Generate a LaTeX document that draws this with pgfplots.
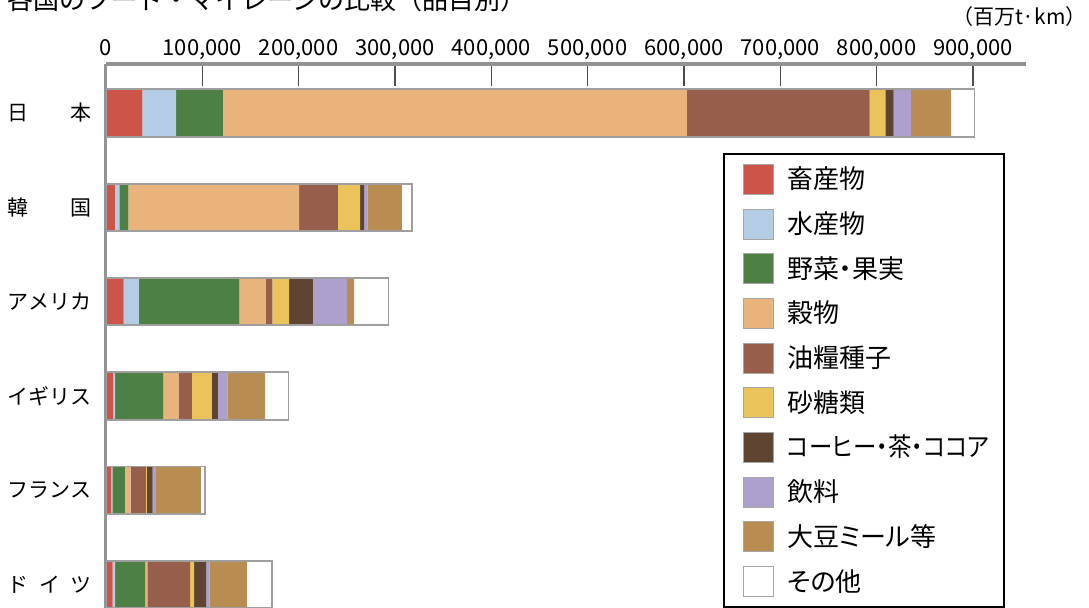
\documentclass[border=0pt]{standalone}
\usepackage{fontspec}
\setmainfont{Noto Sans CJK JP}
\newfontfamily\legfont[RawFeature=+palt]{Noto Sans CJK JP}
\usepackage{graphicx}
\usepackage{pgfplots}
\pgfplotsset{compat=1.18}
\usepackage{pgfplotstable}

\definecolor{cChiku}{RGB}{205,84,72}
\definecolor{cSui}{RGB}{180,204,228}
\definecolor{cYasai}{RGB}{78,127,69}
\definecolor{cKoku}{RGB}{232,180,124}
\definecolor{cYu}{RGB}{151,95,75}
\definecolor{cSato}{RGB}{234,196,90}
\definecolor{cCof}{RGB}{94,68,49}
\definecolor{cInr}{RGB}{173,160,204}
\definecolor{cDaizu}{RGB}{185,141,82}
\definecolor{cOther}{RGB}{255,255,255}

% y: 5 = Japan ... 0 = Germany ; values in million t-km
\pgfplotstableread{
y chiku sui yasai koku yu sato cof inr daizu other
5 37700 35000 48500 481800 189600 16300 8600 18100 41800 24200
4 9300 4500 9300 177300 40200 23200 4200 3400 35700 10400
3 18400 15600 104500 27400 6900 17300 24600 35300 7600 35600
2 7600 1800 50200 16000 13500 20800 6200 10000 39100 24200
1 5500 1000 13200 5900 15900 1000 5900 3400 46700 4200
0 7000 2400 31200 2400 44300 4200 12500 3400 38800 26000
}\data

\pgfplotstableread{
y total
5 901600
4 317500
3 293200
2 189400
1 102700
0 172200
}\totals

\newcommand{\lent}[1]{\makebox[99pt][l]{#1}}
\newcommand{\jl}[1]{\makebox[42pt][s]{#1}}

\pgfplotsset{
  mylegend/.style={legend image code/.code={\draw[##1, draw=gray!70, line width=0.5pt] (0pt,-7.5pt) rectangle (15pt,7.5pt);}},
  common/.style={
    at={(53pt,-32pt)}, anchor=north west,
    scale only axis, width=460pt, height=278pt,
    xmin=0, xmax=955000, ymin=-0.376, ymax=5.52,
    bar width=23.7pt,
  }
}

\begin{document}
\begin{tikzpicture}
\useasboundingbox (0pt,0pt) rectangle (544.5pt,-304pt);
\clip (0pt,0pt) rectangle (544.5pt,-304pt);
\node[anchor=base west, inner sep=0pt, font=\fontsize{13}{15}\selectfont] at (3.5pt,-5pt) {各国のフード・マイレージの比較（品目別）};
\node[anchor=base east, inner sep=0pt, font=\fontsize{10.5}{12}\selectfont] at (543.5pt,-12.5pt) {（百万t·km）};

\begin{axis}[
  common,
  xbar stacked,
  axis x line*=top, axis y line*=left,
  x axis line style={-, draw=gray!85, line width=2pt},
  y axis line style={-, draw=gray!85, line width=1.5pt},
  xtick={0,100000,...,900000},
  scaled x ticks=false,
  xticklabel style={anchor=base, inner sep=0pt, yshift=4pt, font=\fontsize{11}{13}\selectfont,
    /pgf/number format/.cd, fixed, 1000 sep={,}, assume math mode=true},
  tick align=inside,
  major tick length=11pt,
  xtick style={draw=black!70, line width=0.8pt},
  ytick={0,1,2,3,4,5},
  yticklabels={\jl{ド\hfill イ\hfill ツ},\jl{フ\hfill ラ\hfill ン\hfill ス},\jl{イ\hfill ギ\hfill リ\hfill ス},\jl{ア\hfill メ\hfill リ\hfill カ},\jl{韓\hfill 国},\jl{日\hfill 本}},
  ytick style={draw=none},
  yticklabel style={anchor=east, inner sep=0pt, xshift=-7pt, font=\fontsize{10.5}{12}\selectfont},
  legend style={at={(axis description cs:0.6707,0.8399)}, anchor=north west,
    draw=black, line width=1pt, fill=white,
    inner xsep=9.3pt, inner ysep=1.5pt, row sep=0pt, column sep=6.7pt,
    font=\legfont\fontsize{13}{15}\selectfont,
    nodes={inner sep=0pt, minimum height=22.35pt}},
  legend cell align=left,
]
\addplot[fill=cChiku, draw=none, mylegend] table[x=chiku, y=y] {\data};
\addlegendentry{\lent{畜産物}}
\addplot[fill=cSui, draw=none, mylegend] table[x=sui, y=y] {\data};
\addlegendentry{\lent{水産物}}
\addplot[fill=cYasai, draw=none, mylegend] table[x=yasai, y=y] {\data};
\addlegendentry{\lent{野菜・果実}}
\addplot[fill=cKoku, draw=none, mylegend] table[x=koku, y=y] {\data};
\addlegendentry{\lent{穀物}}
\addplot[fill=cYu, draw=none, mylegend] table[x=yu, y=y] {\data};
\addlegendentry{\lent{油糧種子}}
\addplot[fill=cSato, draw=none, mylegend] table[x=sato, y=y] {\data};
\addlegendentry{\lent{砂糖類}}
\addplot[fill=cCof, draw=none, mylegend] table[x=cof, y=y] {\data};
\addlegendentry{\lent{\scalebox{0.9}[1]{コーヒー・茶・ココア}}}
\addplot[fill=cInr, draw=none, mylegend] table[x=inr, y=y] {\data};
\addlegendentry{\lent{飲料}}
\addplot[fill=cDaizu, draw=none, mylegend] table[x=daizu, y=y] {\data};
\addlegendentry{\lent{大豆ミール等}}
\addplot[fill=cOther, draw=none, mylegend] table[x=other, y=y] {\data};
\addlegendentry{\lent{その他}}
\end{axis}

\begin{axis}[common, xbar, hide axis]
\addplot[fill=none, draw=gray!75, line width=0.9pt] table[x=total, y=y] {\totals};
\end{axis}
\end{tikzpicture}
\end{document}
